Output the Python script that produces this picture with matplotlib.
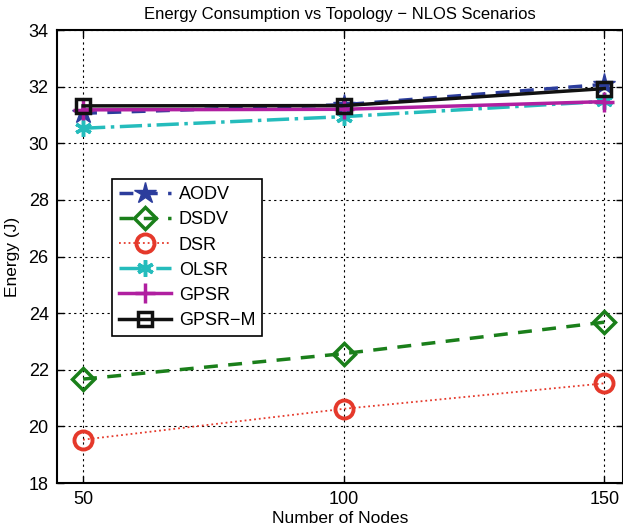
import matplotlib.pyplot as plt

plt.rcParams['font.family'] = ['Liberation Sans', 'DejaVu Sans']

nodes = [50, 100, 150]
aodv = [31.06, 31.36, 32.08]
dsdv = [21.67, 22.57, 23.68]
dsr = [19.53, 20.62, 21.52]
olsr = [30.53, 30.94, 31.48]
gpsr = [31.18, 31.2, 31.47]
gpsr_m = [31.32, 31.33, 31.93]

fig = plt.figure(figsize=(6.23, 5.32), dpi=100)
ax = fig.add_axes([0.0915, 0.0921, 0.9085, 0.8515])

ax.plot(nodes, aodv, '--', color='#2c3d9c', lw=2.5, marker='*', ms=16,
        dashes=(4, 3), label='AODV')
ax.plot(nodes, dsdv, '--', color='#1a7f1a', lw=2.5, marker='D', ms=11,
        mfc='none', mew=2.5, dashes=(4, 3), label='DSDV')
ax.plot(nodes, dsr, ':', color='#e5392b', lw=1.3, marker='o', ms=13,
        mfc='none', mew=2.8, label='DSR')
ax.plot(nodes, olsr, '-.', color='#25bcbc', lw=2.5, marker=(6, 2, 0), ms=12,
        mew=2.5, label='OLSR')
ax.plot(nodes, gpsr, '-', color='#b01fa0', lw=2.5, marker='+', ms=14,
        mew=2.5, label='GPSR')
ax.plot(nodes, gpsr_m, '-', color='#111111', lw=2.5, marker='s', ms=10,
        mfc='none', mew=2.5, label='GPSR\u2212M')

ax.set_xlim(45, 153.6)
ax.set_ylim(18, 34)
ax.set_xticks(nodes)
ax.set_yticks(range(18, 35, 2))
ax.tick_params(direction='in', top=True, right=True, labelsize=13, length=5,
               width=1, pad=6)
ax.grid(True, color='black', linestyle=(0, (2, 3)), linewidth=0.8)
for s in ax.spines.values():
    s.set_linewidth(1.5)

ax.set_title('Energy Consumption vs Topology \u2212 NLOS Scenarios',
             fontsize=12, pad=8)
ax.set_xlabel('Number of Nodes', fontsize=12.5, labelpad=2)
ax.set_ylabel('Energy (J)', fontsize=12.5, labelpad=6)

leg = ax.legend(loc='upper left', bbox_to_anchor=(0.097, 0.671),
                borderaxespad=0, fontsize=13, handlelength=2.9,
                labelspacing=0.45, borderpad=0.4, fancybox=False,
                framealpha=1, edgecolor='black', handletextpad=0.4)
leg.get_frame().set_linewidth(1.2)

fig.savefig('out.png', dpi=100)
